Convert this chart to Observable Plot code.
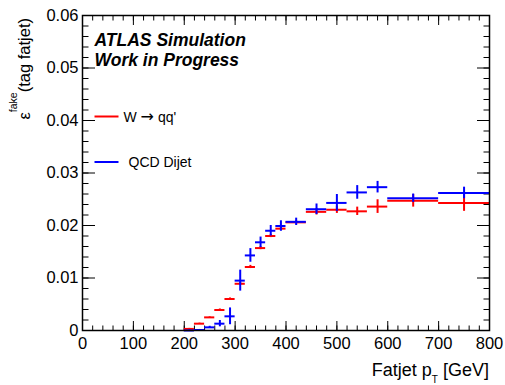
<!DOCTYPE html>
<html>
<head>
<meta charset="utf-8">
<script src="https://cdn.jsdelivr.net/npm/d3@7"></script>
<script src="https://cdn.jsdelivr.net/npm/@observablehq/plot@0.6"></script>
<style>
  html, body { margin: 0; padding: 0; background: #fff; }
  #chart svg { display: block; }
</style>
</head>
<body>
<div id="chart"></div>
<script>
// ---- data ----
const binEdges = [200, 220, 240, 260, 280, 300, 320, 340, 360, 380, 400, 440, 480, 520, 560, 600, 700, 800];
const wqqValues = [0.0003, 0.0013, 0.0025, 0.0039, 0.0060, 0.0089, 0.0121, 0.0157, 0.0180, 0.0194, 0.0206, 0.0226, 0.0230, 0.0227, 0.0236, 0.0247, 0.0243];
const wqqErrors = [0.0001, 0.0001, 0.0001, 0.0002, 0.0002, 0.0003, 0.0003, 0.0003, 0.0003, 0.0003, 0.0003, 0.0006, 0.0007, 0.0008, 0.0013, 0.0012, 0.0016];
const qcdValues = [0.0000, 0.0001, 0.0006, 0.0013, 0.0027, 0.0095, 0.0143, 0.0168, 0.0190, 0.0199, 0.0207, 0.0231, 0.0243, 0.0263, 0.0273, 0.0252, 0.0262];
const qcdErrors = [0.0001, 0.0001, 0.0002, 0.0006, 0.0016, 0.0020, 0.0013, 0.0010, 0.0010, 0.0010, 0.0007, 0.0010, 0.0016, 0.0013, 0.0011, 0.0008, 0.0011];
const seriesNames = ["W \u2192 qq'", "QCD Dijet"];
const seriesColors = ["#ff0000", "#0000ff"];
const xMajorTicks = [0, 100, 200, 300, 400, 500, 600, 700, 800];
const yMajorTicks = [0, 0.01, 0.02, 0.03, 0.04, 0.05, 0.06];
const xMinorTicks = d3.range(0, 801, 20);
const yMinorTicks = d3.range(0, 0.0601, 0.002);

function rows(values, errors) {
  return values.map((v, i) => ({lo: binEdges[i], hi: binEdges[i + 1], v, e: errors[i]}));
}
const wqq = rows(wqqValues, wqqErrors);
const qcd = rows(qcdValues, qcdErrors);

const font = "'Liberation Sans', Arial, Helvetica, sans-serif";

function seriesMarks(data, color) {
  return [
    Plot.ruleY(data, {y: "v", x1: "lo", x2: "hi", stroke: color, strokeWidth: 2}),
    Plot.ruleX(data, {x: d => (d.lo + d.hi) / 2, y1: d => d.v - d.e, y2: d => d.v + d.e, stroke: color, strokeWidth: 2})
  ];
}

function tickAxes(dim, values, size) {
  const blank = () => "";
  if (dim === "x") return [
    Plot.axisX({anchor: "bottom", ticks: values, tickSize: size, dy: -size, tickFormat: blank, label: null}),
    Plot.axisX({anchor: "top", ticks: values, tickSize: size, dy: size, tickFormat: blank, label: null})
  ];
  return [
    Plot.axisY({anchor: "left", ticks: values, tickSize: size, dx: size, tickFormat: blank, label: null}),
    Plot.axisY({anchor: "right", ticks: values, tickSize: size, dx: -size, tickFormat: blank, label: null})
  ];
}

const legendLine = {draw(ctx) { ctx.moveTo(-12, 0); ctx.lineTo(12, 0); }};

const plot = Plot.plot({
  width: 505,
  height: 385,
  marginLeft: 82,
  marginRight: 16,
  marginTop: 15,
  marginBottom: 55,
  style: {fontFamily: font, fontSize: "16px", background: "#fff", color: "#000"},
  x: {domain: [0, 800]},
  y: {domain: [0, 0.06]},
  marks: [
    ...tickAxes("x", xMinorTicks, 4.5),
    ...tickAxes("x", xMajorTicks, 9),
    ...tickAxes("y", yMinorTicks, 6.5),
    ...tickAxes("y", yMajorTicks, 13),
    Plot.axisX({anchor: "bottom", ticks: xMajorTicks, tickSize: 0, tickPadding: 7, fontSize: 16.5, label: null, tickFormat: d => String(d)}),
    Plot.axisY({anchor: "left", ticks: yMajorTicks, tickSize: 0, tickPadding: 4, fontSize: 16.5, label: null, tickFormat: d => d === 0 ? "0" : d.toFixed(2)}),
    ...seriesMarks(wqq, seriesColors[0]),
    ...seriesMarks(qcd, seriesColors[1]),
    Plot.frame({stroke: "#000", strokeWidth: 1.5}),
    Plot.text(["ATLAS Simulation"], {frameAnchor: "top-left", text: d => d, dx: 12, dy: 30, lineAnchor: "bottom", textAnchor: "start", fontSize: 17.5, fontWeight: "bold", fontStyle: "italic", fill: "#000"}),
    Plot.text(["Work in Progress"], {frameAnchor: "top-left", text: d => d, dx: 12, dy: 50, lineAnchor: "bottom", textAnchor: "start", fontSize: 17.5, fontWeight: "bold", fontStyle: "italic", fill: "#000"}),
    Plot.dot([seriesNames[0]], {frameAnchor: "top-left", dx: 24, dy: 101, symbol: legendLine, fill: "none", stroke: seriesColors[0], strokeWidth: 2}),
    Plot.dot([seriesNames[1]], {frameAnchor: "top-left", dx: 24, dy: 146.5, symbol: legendLine, fill: "none", stroke: seriesColors[1], strokeWidth: 2}),
    Plot.text([seriesNames[0]], {frameAnchor: "top-left", text: d => d, dx: 41, dy: 106, lineAnchor: "bottom", textAnchor: "start", fontSize: 14, fill: "#000"}),
    Plot.text([seriesNames[1]], {frameAnchor: "top-left", text: d => d, dx: 46, dy: 151, lineAnchor: "bottom", textAnchor: "start", fontSize: 14, fill: "#000"})
  ]
});

const svg = d3.select(plot);

// larger arrow glyph in the legend text (as in the ROOT rendering)
svg.selectAll("text").each(function () {
  const t = this.textContent;
  if (t.includes("\u2192") && this.childElementCount === 0) {
    const [a, b] = t.split("\u2192");
    const el = d3.select(this).text(null);
    el.append("tspan").text(a);
    el.append("tspan").attr("font-family", "'DejaVu Sans', sans-serif").attr("font-size", 16).text("\u2192");
    el.append("tspan").text(b);
  }
});

// axis titles with sub/superscripts
const xt = svg.append("text")
  .attr("x", 489).attr("y", 376)
  .attr("text-anchor", "end")
  .attr("font-family", font).attr("font-size", 18).attr("fill", "#000");
xt.append("tspan").text("Fatjet p");
xt.append("tspan").attr("font-size", 10).attr("dy", 7).text("T");
xt.append("tspan").attr("dy", -7).text("\u00a0[GeV]");

const yt = svg.append("text")
  .attr("transform", "translate(30,18) rotate(-90)")
  .attr("text-anchor", "end")
  .attr("font-family", font).attr("font-size", 16.5).attr("fill", "#000");
yt.append("tspan").text("\u03b5");
yt.append("tspan").attr("font-size", 10.5).attr("dy", -13).text("fake");
yt.append("tspan").attr("dy", 13).text("(tag fatjet)");

document.getElementById("chart").appendChild(plot);
</script>
</body>
</html>
